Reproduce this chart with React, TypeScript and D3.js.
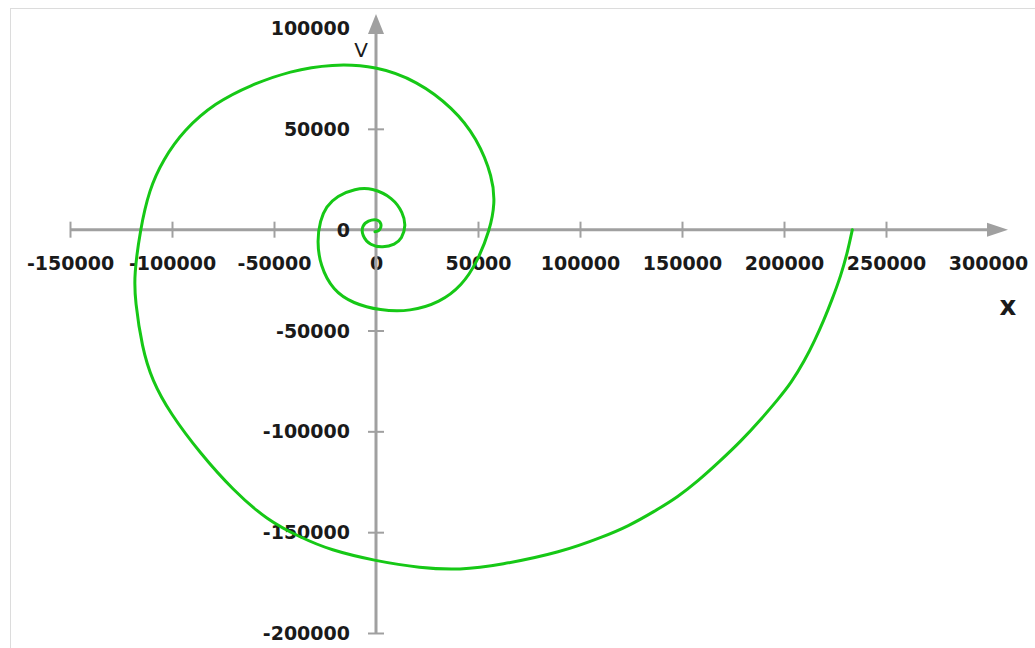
import React, { useRef, useEffect } from 'react';
import * as d3 from 'd3';

// spiral, outer end first
const spiralX = [
  233500, 231300, 227900, 223400, 219500, 215100, 210200, 203400, 197000, 188700,
  178900, 168600, 157800, 148000, 136300, 123500, 111800, 90700, 60800, 41200,
  21600, 0, -22500, -37200, -53400, -70100, -86200, -100900, -109800, -114700,
  -118100, -118600, -115600, -111200, -104400, -94100, -78900, -61300, -42200, -21600,
  0, 20100, 37700, 49500, 57300, 58300, 55900, 49500, 42100, 31400,
  16700, 2000, -11300, -21100, -27400, -28900, -27400, -24500, -19100, -10300,
  -2000, 8300, 13200, 14700, 12700, 9300, 3400, -2900, -6900, -6900,
  -3900, 500, 2900, 2000, -500,
];
const spiralY = [
  0, -10400, -22800, -35100, -45000, -54900, -64800, -76200, -84200, -94100,
  -104900, -114800, -124700, -132500, -139800, -147100, -152100, -160000, -166300, -168800,
  -167800, -164300, -158900, -152500, -144000, -129200, -110900, -91100, -74700, -58400,
  -35100, -22800, 0, 19800, 34700, 49500, 62900, 71800, 78700, 82200,
  81200, 73800, 60400, 45500, 25700, 12900, 0, -16300, -27700, -36100,
  -40600, -40100, -36600, -30200, -17800, -5400, 4500, 11400, 16800, 20300,
  20800, 15800, 8400, 2000, -4500, -7400, -8900, -7900, -3000, 2000,
  4500, 5400, 3000, -500, -1000,
];

const xTicks = [-150000, -100000, -50000, 0, 50000, 100000, 150000, 200000, 250000, 300000];
const yTicks = [100000, 50000, 0, -50000, -100000, -150000, -200000];

const SpiralChart = () => {
  const d3Container = useRef<HTMLDivElement>(null);

  useEffect(() => {
    if (!d3Container.current) return;
    d3.select(d3Container.current).select('svg').remove();

    const width = 1035;
    const height = 648;
    const axisColor = '#a0a0a0';
    const textColor = '#1a1a1a';
    const font = "'DejaVu Sans', sans-serif";

    const svg = d3.select(d3Container.current)
      .append('svg')
      .attr('width', width)
      .attr('height', height)
      .style('position', 'absolute')
      .style('left', 0)
      .style('top', 0);

    svg.append('rect')
      .attr('x', 10.5).attr('y', 8.5)
      .attr('width', 1100).attr('height', 700)
      .attr('fill', 'white')
      .attr('stroke', '#dcdcdc');

    const x = d3.scaleLinear().domain([-150000, 300000]).range([70, 988]);
    const y = d3.scaleLinear().domain([-200000, 100000]).range([633, 28]);
    const fmt = (d: any) => String(d);

    // x axis
    const xg = svg.append('g')
      .attr('transform', `translate(0,${y(0)})`)
      .call(d3.axisBottom(x).tickValues(xTicks).tickSize(8).tickFormat(fmt));
    xg.select('.domain').remove();
    xg.selectAll('.tick line')
      .attr('y1', -8)
      .attr('stroke', axisColor)
      .attr('stroke-width', 2)
      .style('display', (d: any) => (d === 300000 ? 'none' : null));
    xg.selectAll('.tick text')
      .attr('y', 34)
      .attr('dy', '0.35em')
      .attr('fill', textColor)
      .style('font-family', font)
      .style('font-size', '19px')
      .style('font-weight', 'bold');

    xg.append('line')
      .attr('x1', x(-150000)).attr('x2', 992)
      .attr('stroke', axisColor).attr('stroke-width', 3);
    xg.append('path')
      .attr('d', 'M987,-7L1008,0L987,7Z')
      .attr('fill', axisColor);

    // y axis
    const yg = svg.append('g')
      .attr('transform', `translate(${x(0)},0)`)
      .call(d3.axisLeft(y).tickValues(yTicks).tickSize(8).tickFormat(fmt));
    yg.select('.domain').remove();
    yg.selectAll('.tick line')
      .attr('x2', 8)
      .attr('x1', -8)
      .attr('stroke', axisColor)
      .attr('stroke-width', 2)
      .style('display', (d: any) => (d === 100000 || d === 0 ? 'none' : null));
    yg.selectAll('.tick text')
      .attr('x', -26)
      .attr('dy', '0.35em')
      .attr('fill', textColor)
      .style('font-family', font)
      .style('font-size', '19px')
      .style('font-weight', 'bold');

    yg.append('line')
      .attr('y1', y(-200000)).attr('y2', 30)
      .attr('stroke', axisColor).attr('stroke-width', 3);
    yg.append('path')
      .attr('d', 'M-8,34L0,14L8,34Z')
      .attr('fill', axisColor);

    // axis titles
    svg.append('text')
      .attr('x', 1008).attr('y', 315)
      .attr('text-anchor', 'middle')
      .attr('fill', textColor)
      .style('font-family', font)
      .style('font-size', '26px')
      .style('font-weight', 'bold')
      .text('x');
    svg.append('text')
      .attr('x', 361).attr('y', 57)
      .attr('text-anchor', 'middle')
      .attr('fill', textColor)
      .style('font-family', font)
      .style('font-size', '20px')
      .text('V');

    // spiral
    const line = d3.line<number>()
      .x((d, i) => x(spiralX[i]))
      .y(d => y(d))
      .curve(d3.curveBasis);

    svg.append('path')
      .datum(spiralY)
      .attr('d', line)
      .attr('fill', 'none')
      .attr('stroke', '#16c816')
      .attr('stroke-width', 3)
      .attr('stroke-linejoin', 'round')
      .attr('stroke-linecap', 'round');
  }, []);

  return <div className="chart-container" ref={d3Container}></div>;
};

export default SpiralChart;
